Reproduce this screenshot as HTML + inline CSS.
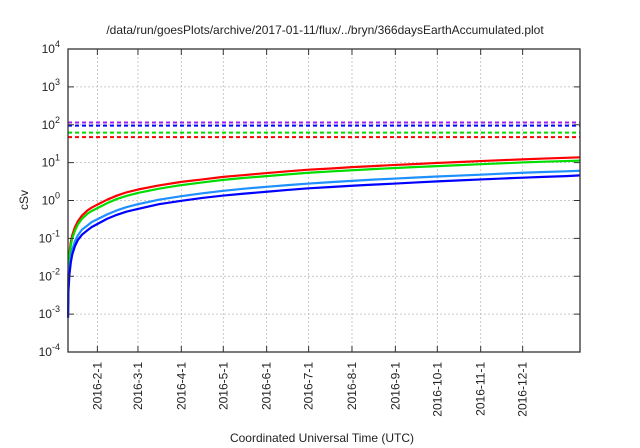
<!DOCTYPE html>
<html><head><meta charset="utf-8"><style>
body{margin:0;background:#fff}
svg{display:block;font-family:"Liberation Sans",sans-serif}
</style></head><body>
<svg id="c" width="640" height="448">
<text x="325" y="34" text-anchor="middle" font-size="12" fill="#222">/data/run/goesPlots/archive/2017-01-11/flux/../bryn/366daysEarthAccumulated.plot</text>
<text x="322" y="442" text-anchor="middle" font-size="12" fill="#222">Coordinated Universal Time (UTC)</text>
<text transform="translate(28,200) rotate(-90)" text-anchor="middle" font-size="12" fill="#222">cSv</text>
<g id="grid"></g><g id="marks"></g><g id="axes"></g>
</svg>
<script>
const tickExps=[-4,-3,-2,-1,0,1,2,3,4];
const monthLabels=["2016-2-1","2016-3-1","2016-4-1","2016-5-1","2016-6-1","2016-7-1","2016-8-1","2016-9-1","2016-10-1","2016-11-1","2016-12-1"];
const monthDays=[21,50,81,111,142,172,203,234,264,295,325];
const days=[0.05,0.3,1,2,3,5,7,10,14,17,21,28,35,42,50,65,81,96,111,126,142,157,172,188,203,218,234,249,264,280,295,310,325,340,356,366];
const redVals=[0.002,0.012,0.04,0.08,0.12,0.2,0.28,0.4,0.55,0.65,0.78,1.05,1.35,1.65,1.95,2.5,3.1,3.6,4.2,4.7,5.3,5.9,6.5,7.0,7.6,8.1,8.7,9.2,9.8,10.4,11,11.6,12.2,12.8,13.4,13.8];
const greenVals=[0.0015,0.01,0.032,0.065,0.1,0.16,0.23,0.33,0.45,0.53,0.63,0.85,1.1,1.33,1.58,2.05,2.55,3.0,3.5,3.95,4.4,4.9,5.4,5.85,6.3,6.75,7.2,7.65,8.1,8.6,9.1,9.6,10.1,10.6,11,11.3];
const lblueVals=[0.001,0.005,0.015,0.03,0.05,0.085,0.12,0.17,0.22,0.27,0.32,0.43,0.55,0.67,0.8,1.05,1.3,1.55,1.8,2.05,2.3,2.55,2.8,3.05,3.3,3.55,3.8,4.05,4.3,4.55,4.8,5.1,5.4,5.65,5.9,6.1];
const blueVals=[0.0008,0.004,0.011,0.023,0.037,0.063,0.09,0.125,0.165,0.2,0.24,0.33,0.42,0.51,0.6,0.8,0.98,1.17,1.35,1.52,1.7,1.9,2.1,2.27,2.45,2.62,2.8,3.0,3.2,3.4,3.6,3.8,4,4.2,4.4,4.6];
const limitVals=[115,95,62,47];
const limitColors=["#a020f0","#0000ff","#00dd00","#ff0000"];
const seriesVals=[redVals,greenVals,lblueVals,blueVals];
const seriesColors=["#ff0000","#00dd00","#1e90ff","#0000ff"];
const L=68,R=580,T=49,B=352,NS="http://www.w3.org/2000/svg";
const X=d=>L+d/366*(R-L);
const Y=v=>B-(Math.log10(v)+4)/8*(B-T);
function mk(p,t,a){const e=document.createElementNS(NS,t);for(const k in a)e.setAttribute(k,a[k]);document.getElementById(p).appendChild(e);return e;}
tickExps.forEach(n=>{const y=B-(n+4)/8*(B-T);
 if(n>-4&&n<4){const g=mk("grid","line",{x1:L,x2:R,y1:y,y2:y,stroke:"#bbb","stroke-dasharray":"2,2","stroke-width":0.8});
 
 }
 const t=mk("axes","text",{x:60,y:y+4,"text-anchor":"end","font-size":12,fill:"#222"});
 
 
 t.innerHTML="10<tspan dy='-6' font-size='9'>"+n+"</tspan>";
 mk("axes","line",{x1:L,x2:L+6,y1:y,y2:y,stroke:"#333"});mk("axes","line",{x1:R,x2:R-6,y1:y,y2:y,stroke:"#333"});
});
monthDays.forEach((d,i)=>{const x=X(d);
 const g=mk("grid","line",{x1:x,x2:x,y1:T,y2:B,stroke:"#bbb","stroke-dasharray":"2,2","stroke-width":0.8});
 
 
 mk("axes","line",{x1:x,x2:x,y1:B,y2:B-6,stroke:"#333"});mk("axes","line",{x1:x,x2:x,y1:T,y2:T+6,stroke:"#333"});
 const t=mk("axes","text",{transform:`translate(${x+4},362) rotate(-90)`,"text-anchor":"end","font-size":12,fill:"#222"});
 
 
 t.textContent=monthLabels[i];
});
limitVals.forEach((v,i)=>{const y=Y(v);
 const l=mk("marks","line",{x1:L,x2:R,y1:y,y2:y,stroke:limitColors[i],"stroke-width":2,"stroke-dasharray":"4,3"});
 
 
});
seriesVals.forEach((vals,i)=>{
 const p=mk("marks","path",{d:vals.map((v,j)=>(j?"L":"M")+X(days[j]).toFixed(2)+","+Y(v).toFixed(2)).join(""),fill:"none",stroke:seriesColors[i],"stroke-width":2.2,"stroke-linejoin":"round"});
 
 
});
const f=mk("axes","rect",{x:L,y:T,width:R-L,height:B-T,fill:"none",stroke:"#333","stroke-width":1.3});


</script>
</body></html>
